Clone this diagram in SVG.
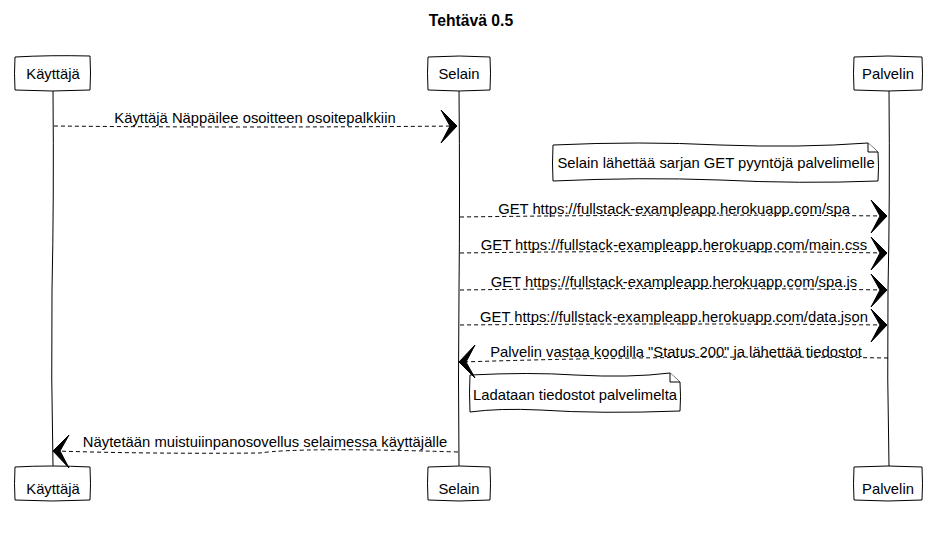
<svg xmlns="http://www.w3.org/2000/svg" width="940" height="533" viewBox="0 0 940 533">
<style>
.t{font-family:"Liberation Sans",Arial,sans-serif;font-size:14.8px;fill:#000}
.c{text-anchor:middle}
.box{fill:#fff;stroke:#000;stroke-width:1}
.life{fill:none;stroke:#000;stroke-width:1}
.msg{fill:none;stroke:#000;stroke-width:1;stroke-dasharray:4 3}
.ah{fill:#000;stroke:#000;stroke-width:1}
.note{fill:#fff;stroke:#000;stroke-width:1}
</style>
<rect width="940" height="533" fill="#fff"/>
<text class="t c" x="471" y="26" style="font-weight:bold;font-size:15.7px">Tehtävä 0.5</text>
<g id="lifelines">
<path class="life" d="M53,90 Q54,200 52,290 Q51,380 53,466"/>
<path class="life" d="M459,90 Q460,200 459,290 Q458,380 459,466"/>
<path class="life" d="M889,90 Q890,200 888,290 Q887,380 889,466"/>
</g>
<g id="p-kayttaja-top">
<path class="box" d="M15,57 Q50,55 90,56 Q91,73 90,90 Q52,92 15,90 Q14,73 15,57 Z"/>
<text class="t c" x="53" y="79">Käyttäjä</text>
</g>
<g id="p-selain-top">
<path class="box" d="M428,57 Q460,55 490,57 Q491,73 490,90 Q459,92 428,90 Q427,73 428,57 Z"/>
<text class="t c" x="459" y="79">Selain</text>
</g>
<g id="p-palvelin-top">
<path class="box" d="M854,57 Q888,55 922,57 Q923,73 922,90 Q888,92 854,90 Q853,73 854,57 Z"/>
<text class="t c" x="888" y="79">Palvelin</text>
</g>
<g id="p-kayttaja-bottom">
<path class="box" d="M15,467 Q50,465 90,467 Q91,484 90,500 Q52,502 15,500 Q14,484 15,467 Z"/>
<text class="t c" x="53" y="494">Käyttäjä</text>
</g>
<g id="p-selain-bottom">
<path class="box" d="M428,467 Q460,465 490,467 Q491,484 490,500 Q459,502 428,500 Q427,484 428,467 Z"/>
<text class="t c" x="459" y="494">Selain</text>
</g>
<g id="p-palvelin-bottom">
<path class="box" d="M854,467 Q888,465 922,467 Q923,484 922,500 Q888,502 854,500 Q853,484 854,467 Z"/>
<text class="t c" x="888" y="494">Palvelin</text>
</g>
<g id="note-1">
<path class="note" d="M553,145 Q640,141 720,145 Q800,148 868,143 L878,152 Q879,167 878,181 Q800,184 720,180 Q640,177 553,181 Q552,163 553,145 Z"/>
<path class="note" d="M868,143 L868,152 L878,152"/>
<text class="t c" x="716" y="168">Selain lähettää sarjan GET pyyntöjä palvelimelle</text>
</g>
<g id="note-2">
<path class="note" d="M470,375 Q530,372 575,375 Q630,378 670,373 L680,382 Q681,397 680,411 Q600,414 540,410 Q500,408 470,412 Q469,393 470,375 Z"/>
<path class="note" d="M670,373 L670,382 L680,382"/>
<text class="t c" x="575" y="400">Ladataan tiedostot palvelimelta</text>
</g>
<g id="connectors">
<path class="msg" d="M54,126 Q250,128 456,126"/>
<path class="ah" d="M441,110 L457,126 L441,143 L450,126 Z"/>
<text class="t c" x="255" y="123">Käyttäjä Näppäilee osoitteen osoitepalkkiin</text>

<path class="msg" d="M460,217 Q680,214 886,216"/>
<path class="ah" d="M871,200 L887,216 L871,233 L880,216 Z"/>
<text class="t c" x="674" y="214">GET https://fullstack-exampleapp.herokuapp.com/spa</text>

<path class="msg" d="M460,253 Q680,250 886,253"/>
<path class="ah" d="M871,237 L887,253 L871,270 L880,253 Z"/>
<text class="t c" x="674" y="250">GET https://fullstack-exampleapp.herokuapp.com/main.css</text>

<path class="msg" d="M460,290 Q680,287 886,290"/>
<path class="ah" d="M871,274 L887,290 L871,307 L880,290 Z"/>
<text class="t c" x="674" y="287">GET https://fullstack-exampleapp.herokuapp.com/spa.js</text>

<path class="msg" d="M460,325 Q680,323 886,325"/>
<path class="ah" d="M871,309 L887,325 L871,342 L880,325 Z"/>
<text class="t c" x="674" y="322">GET https://fullstack-exampleapp.herokuapp.com/data.json</text>

<path class="msg" d="M888,358 Q680,355 462,362"/>
<path class="ah" d="M475,345 L459,362 L475,378 L466,362 Z"/>
<text class="t c" x="676" y="357">Palvelin vastaa koodilla "Status 200" ja lähettää tiedostot</text>

<path class="msg" d="M458,452 Q300,447 260,453 Q150,454 56,451"/>
<path class="ah" d="M69,435 L53,451 L69,468 L60,451 Z"/>
<text class="t c" x="265" y="447">Näytetään muistuiinpanosovellus selaimessa käyttäjälle</text>
</g>
</svg>
